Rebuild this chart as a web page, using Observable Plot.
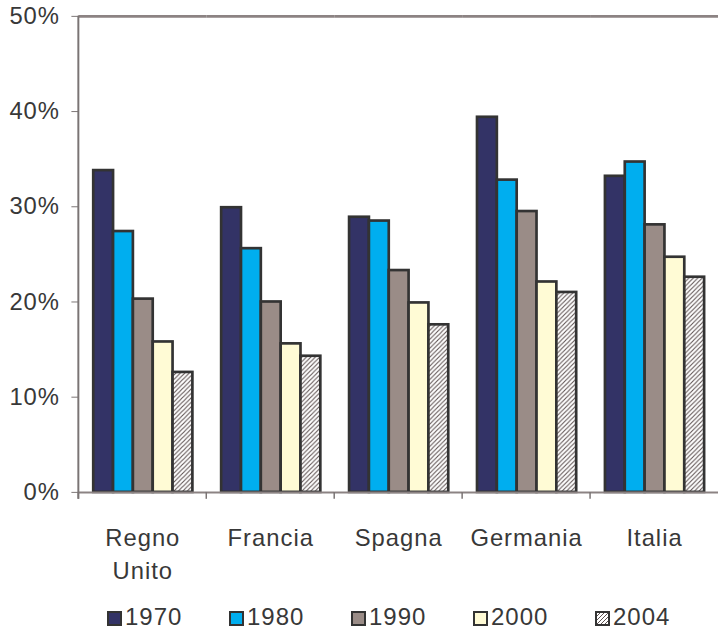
<!DOCTYPE html>
<html>
<head>
<meta charset="utf-8">
<script src="https://cdn.jsdelivr.net/npm/d3@7"></script>
<script src="https://cdn.jsdelivr.net/npm/@observablehq/plot@0.6"></script>
<style>
html, body { margin: 0; padding: 0; background: #fff; overflow: hidden; width: 718px; height: 633px; }
#chart svg { display: block; }
#chart svg text { letter-spacing: 1px; }
#legend { position: relative; height: 43px; font-family: "Liberation Sans", Arial, sans-serif; font-size: 24px; letter-spacing: 1px; color: #383838; }
#legend .item { position: absolute; top: 18px; height: 28px; line-height: 28px; white-space: nowrap; }
#legend .sw { display: inline-block; width: 11px; height: 11px; border: 2.5px solid #333; vertical-align: -1px; margin-right: 3px; }
</style>
</head>
<body>
<div id="chart"></div>
<div id="legend"></div>
<script>
// ---- data ----
const countries = ["Regno Unito", "Francia", "Spagna", "Germania", "Italia"];
const years = ["1970", "1980", "1990", "2000", "2004"];
const v1970 = [33.8, 29.9, 28.9, 39.4, 33.2];
const v1980 = [27.4, 25.6, 28.5, 32.8, 34.7];
const v1990 = [20.3, 20.0, 23.3, 29.5, 28.1];
const v2000 = [15.8, 15.6, 19.9, 22.1, 24.7];
const v2004 = [12.6, 14.3, 17.6, 21.0, 22.6];
const yTicks = [0, 10, 20, 30, 40, 50];
const colors = ["#333366", "#00AEEF", "#9A8C87", "#FFFBD5", "url(#hatch)"];

const series = [v1970, v1980, v1990, v2000, v2004];
const data = [];
countries.forEach((c, i) => years.forEach((y, j) => data.push({country: c, year: y, value: series[j][i]})));

const chart = Plot.plot({
  width: 724,
  height: 590,
  marginLeft: 79,
  marginRight: 0,
  marginTop: 16,
  marginBottom: 94,
  style: {fontFamily: "'Liberation Sans', Arial, sans-serif", fontSize: "24px", color: "#383838", background: "white"},
  fx: {domain: countries, padding: 0, label: null},
  x: {domain: years, paddingInner: 0, paddingOuter: 0.69, axis: null},
  y: {domain: [0, 50], label: null},
  color: {domain: years, range: colors},
  marks: [
    Plot.ruleY([50], {stroke: "#8c8383", strokeWidth: 3}),
    Plot.barY(data, {fx: "country", x: "year", y: "value", fill: "year", stroke: "#333333", strokeWidth: 2.7}),
    Plot.ruleY([0], {stroke: "#8c8383", strokeWidth: 2}),
    Plot.axisY({ticks: yTicks, tickFormat: d => d + "%", tickSize: 7, tickPadding: 12, fontSize: 24, stroke: "#7a7474", fill: "#383838", label: null}),
    Plot.axisFx({anchor: "bottom", tickSize: 0, tickPadding: 30, fontSize: 24, lineHeight: 1.4, fill: "#383838", label: null,
      tickFormat: d => d === "Regno Unito" ? "Regno\nUnito" : d})
  ]
});

document.getElementById("chart").appendChild(chart);

// hatch pattern for 2004
const svg = d3.select(chart);
const defs = svg.insert("defs", ":first-child");
const pat = defs.append("pattern").attr("id", "hatch").attr("patternUnits", "userSpaceOnUse")
  .attr("width", 4.5).attr("height", 4.5);
pat.append("rect").attr("width", 4.5).attr("height", 4.5).attr("fill", "#fff");
pat.append("path").attr("d", "M-1,1 l2,-2 M0,4.5 l4.5,-4.5 M3.5,5.5 l2,-2")
  .attr("stroke", "#5e5252").attr("stroke-width", 1.1);

// axis line and category separator ticks through the plot scales
const fx = chart.scale("fx");
const ys = chart.scale("y");
const y0 = ys.apply(0), y50 = ys.apply(50);
const g = svg.append("g").attr("stroke", "#7a7474").attr("fill", "none");
countries.forEach(c => {
  const x = fx.apply(c);
  g.append("line").attr("x1", x).attr("x2", x).attr("y1", y0).attr("y2", y0 + 7).attr("stroke-width", 1.5);
});
const xl = fx.apply(countries[0]);
g.append("line").attr("x1", xl).attr("x2", xl).attr("y1", y50).attr("y2", y0 + 7).attr("stroke-width", 2);

// legend
const legend = document.getElementById("legend");
years.forEach((y, i) => {
  const it = document.createElement("div");
  it.className = "item";
  it.style.left = (107 + i * 122) + "px";
  const sw = document.createElement("span");
  sw.className = "sw";
  if (i === 4) {
    sw.style.background = "repeating-linear-gradient(-45deg, #fff 0px, #fff 1.6px, #5e5252 1.6px, #5e5252 2.8px)";
  } else {
    sw.style.background = colors[i];
  }
  it.appendChild(sw);
  it.appendChild(document.createTextNode(y));
  legend.appendChild(it);
});
</script>
</body>
</html>
